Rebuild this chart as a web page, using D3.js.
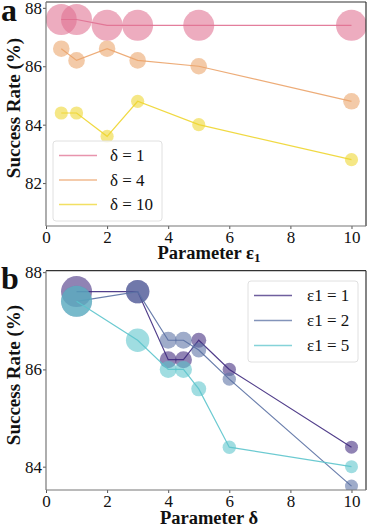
<!DOCTYPE html>
<html><head><meta charset="utf-8">
<script src="https://cdn.jsdelivr.net/npm/d3@7"></script>
<style>body{margin:0;background:#fff}svg{display:block}svg text{font-family:"Liberation Serif","Times New Roman",serif !important}</style>
</head><body>
<script>
// ---- Data ----
const epsA = [0.5, 1, 2, 3, 5, 10];
const delta1 = [87.6, 87.6, 87.4, 87.4, 87.4, 87.4];
const delta4 = [86.6, 86.2, 86.6, 86.2, 86.0, 84.8];
const delta10 = [84.4, 84.4, 83.6, 84.8, 84.0, 82.8];
const labelsA = ["δ = 1", "δ = 4", "δ = 10"];

const deltaB = [1, 3, 4, 4.5, 5, 6, 10];
const eps1 = [87.6, 87.6, 86.2, 86.2, 86.6, 86.0, 84.4];
const eps2 = [87.4, 87.6, 86.6, 86.6, 86.4, 85.8, 83.6];
const eps5 = [87.4, 86.6, 86.0, 86.0, 85.6, 84.4, 84.0];
const labelsB = ["ε1 = 1", "ε1 = 2", "ε1 = 5"];

const xTicks = [0, 2, 4, 6, 8, 10];
const yTicksA = [82, 84, 86, 88];
const yTicksB = [84, 86, 88];

// marker radius per δ value
const radiusA = [15.5, 8.3, 6.6];          // δ = 1, 4, 10
const radiusB = [15.5, 11.7, 8.5, 8.5, 7.5, 6.7, 6.5]; // δ = 1,3,4,4.5,5,6,10

const colorsA = ["#e07091", "#eba369", "#eed52f"];
const colorsB = ["#3f2a7e", "#5a70a3", "#5cc4cc"];

const W = 376, H = 528;
const svg = d3.select("body").append("svg").attr("width", W).attr("height", H);

function panel(cfg) {
  const g = svg.append("g");
  const x = d3.scaleLinear().domain([0, 10.475]).range([46, 366]);
  const y = d3.scaleLinear().domain(cfg.ydom).range([cfg.bottom, cfg.top]);
  const clipId = "clip" + cfg.letter;
  svg.append("clipPath").attr("id", clipId).append("rect")
    .attr("x", 46).attr("y", cfg.top).attr("width", 320).attr("height", cfg.bottom - cfg.top);
  const plot = g.append("g").attr("clip-path", `url(#${clipId})`);

  cfg.series.forEach((s, i) => {
    const pts = cfg.xs.map((xv, j) => ({x: xv, y: s[j], r: cfg.radius(i, j)}));
    plot.append("g").selectAll("circle").data(pts).join("circle")
      .attr("cx", d => x(d.x)).attr("cy", d => y(d.y)).attr("r", d => d.r)
      .attr("fill", cfg.colors[i]).attr("fill-opacity", 0.58);
    plot.append("path").datum(pts)
      .attr("d", d3.line().x(d => x(d.x)).y(d => y(d.y)))
      .attr("fill", "none").attr("stroke", cfg.colors[i]).attr("stroke-width", 1.2)
      .attr("stroke-opacity", 0.9);
  });

  // axes
  const xa = g.append("g").attr("transform", `translate(0,${cfg.bottom})`)
    .call(d3.axisBottom(x).tickValues(xTicks).tickSize(3).tickPadding(1.5).tickFormat(d3.format("d")));
  const ya = g.append("g").attr("transform", `translate(46,0)`)
    .call(d3.axisLeft(y).tickValues(cfg.yticks).tickSize(3).tickPadding(1).tickFormat(d3.format("d")));
  [xa, ya].forEach(a => {
    a.select(".domain").remove();
    a.selectAll(".tick line").attr("stroke", "#555");
    a.selectAll(".tick text").attr("font-size", 17).attr("fill", "#111");
  });
  // frame
  g.append("line").attr("x1", 46).attr("x2", 366).attr("y1", cfg.top).attr("y2", cfg.top).attr("stroke", "#333").attr("stroke-width", 1.2);
  g.append("line").attr("x1", 366).attr("x2", 366).attr("y1", cfg.top).attr("y2", cfg.bottom).attr("stroke", "#333").attr("stroke-width", 1.2);
  g.append("line").attr("x1", 46).attr("x2", 46).attr("y1", cfg.top).attr("y2", cfg.bottom).attr("stroke", "#777").attr("stroke-width", 1.2);
  g.append("line").attr("x1", 46).attr("x2", 366).attr("y1", cfg.bottom).attr("y2", cfg.bottom).attr("stroke", "#777").attr("stroke-width", 1.2);

  // legend
  const L = cfg.legend;
  g.append("rect").attr("x", L.x).attr("y", L.y).attr("width", L.w).attr("height", L.h)
    .attr("rx", 3).attr("fill", "#fff").attr("fill-opacity", 0.85).attr("stroke", "#e0e0e0");
  cfg.labels.forEach((lab, i) => {
    const yy = L.y + 14.5 + i * L.step;
    g.append("line").attr("x1", L.x + 6).attr("x2", L.x + 44).attr("y1", yy).attr("y2", yy)
      .attr("stroke", cfg.colors[i]).attr("stroke-width", 1.3).attr("stroke-opacity", 0.75);
    g.append("text").attr("x", L.x + L.tx).attr("y", yy).attr("dy", "0.35em")
      .attr("font-size", 17).attr("fill", "#111").text(lab);
  });

  // axis labels
  g.append("text").attr("transform", `translate(20,${cfg.ylabY}) rotate(-90)`)
    .attr("text-anchor", "middle").attr("font-size", 19).attr("font-weight", "bold").attr("fill", "#111")
    .text("Success Rate (%)");
  const xl = g.append("text").attr("x", 209).attr("y", cfg.xlabY).attr("text-anchor", "middle")
    .attr("font-size", 18.5).attr("font-weight", "bold").attr("fill", "#111");
  cfg.xlab(xl);

  g.append("text").attr("x", 1).attr("y", cfg.letterY).attr("font-size", 32).attr("font-weight", "bold")
    .attr("fill", "#111").text(cfg.letter);
}

panel({
  letter: "a", letterY: 21,
  top: 2, bottom: 226, ydom: [80.53, 88.2], yticks: yTicksA,
  xs: epsA, series: [delta1, delta4, delta10], colors: colorsA, labels: labelsA,
  radius: (i, j) => radiusA[i],
  legend: {x: 53, y: 141, w: 109, h: 80, step: 24.5, tx: 57},
  ylabY: 108, xlabY: 259,
  xlab: t => { t.append("tspan").text("Parameter ε"); t.append("tspan").attr("font-size", 13).attr("dy", 3).text("1"); }
});

panel({
  letter: "b", letterY: 289,
  top: 270.7, bottom: 490, ydom: [83.52, 88.03], yticks: yTicksB,
  xs: deltaB, series: [eps1, eps2, eps5], colors: colorsB, labels: labelsB,
  radius: (i, j) => radiusB[j],
  legend: {x: 248, y: 281, w: 110, h: 81, step: 25, tx: 59},
  ylabY: 375, xlabY: 524,
  xlab: t => t.text("Parameter δ")
});
</script>
</body></html>
